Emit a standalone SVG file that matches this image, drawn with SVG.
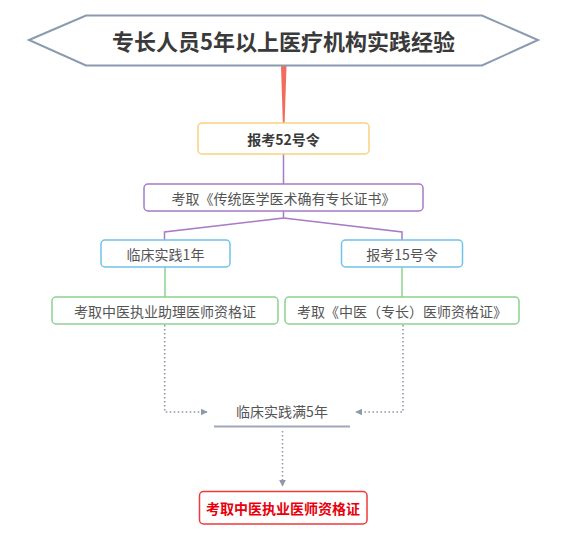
<svg xmlns="http://www.w3.org/2000/svg" width="563" height="542" viewBox="0 0 563 542">
<defs>
<style>
.t{font-family:"Noto Sans CJK SC","Noto Sans",sans-serif;text-anchor:middle;dominant-baseline:central}
.box{fill:#fff;stroke-width:1.5}
.dot{fill:none;stroke:#8e99ab;stroke-width:1.6;stroke-dasharray:1.6 2.4}
</style>
<marker id="ah" viewBox="0 0 10 10" refX="9" refY="5" markerWidth="7" markerHeight="7" markerUnits="userSpaceOnUse" orient="auto">
<path d="M0,0 L10,5 L0,10 Z" fill="#8e99ab"/>
</marker>
</defs>
<rect width="563" height="542" fill="#fff"/>
<g id="connectors">
<polygon points="281,66 286.5,66 284.6,123 282.8,123" fill="#f26b5b"/>
<line x1="283.5" y1="154" x2="283.5" y2="184" stroke="#a77bc6" stroke-width="1.5"/>
<polyline points="283.5,211 283.5,218 164.5,232 164.5,240" fill="none" stroke="#a77bc6" stroke-width="1.5"/>
<polyline points="283.5,218 402,232 402,240" fill="none" stroke="#a77bc6" stroke-width="1.5"/>
<line x1="165" y1="267" x2="165" y2="297" stroke="#8fd18f" stroke-width="1.5"/>
<line x1="402" y1="267" x2="402" y2="297" stroke="#8fd18f" stroke-width="1.5"/>
<polyline class="dot" points="164.7,325 164.7,412 207,412" marker-end="url(#ah)"/>
<polyline class="dot" points="403,325 403,412 356,412" marker-end="url(#ah)"/>
<line class="dot" x1="282.5" y1="431" x2="282.5" y2="486" marker-end="url(#ah)"/>
</g>
<g id="title">
<polygon points="29,40 86,15.5 482,15.5 538,40 482,65.5 86,65.5" fill="#fff" stroke="#8a9bb0" stroke-width="2"/>
<text class="t" x="283.5" y="40" font-size="22" font-weight="bold" fill="#3a3a3a">专长人员5年以上医疗机构实践经验</text>
</g>
<g id="n52">
<rect class="box" x="198" y="123" width="171" height="31" rx="4" stroke="#f9d27c"/>
<text class="t" x="283.5" y="138.5" font-size="14" font-weight="bold" fill="#3a3a3a">报考52号令</text>
</g>
<g id="ncert">
<rect class="box" x="144" y="184" width="279" height="27" rx="4" stroke="#a77bc6"/>
<text class="t" x="283.5" y="197.5" font-size="14" fill="#555">考取《传统医学医术确有专长证书》</text>
</g>
<g id="nprac1">
<rect class="box" x="101" y="240" width="129" height="27" rx="4" stroke="#6fc3e8"/>
<text class="t" x="165.5" y="253.5" font-size="14" fill="#555">临床实践1年</text>
</g>
<g id="n15">
<rect class="box" x="341.5" y="240" width="121" height="27" rx="4" stroke="#6fc3e8"/>
<text class="t" x="402" y="253.5" font-size="14" fill="#555">报考15号令</text>
</g>
<g id="nasst">
<rect class="box" x="52" y="297" width="226" height="27" rx="4" stroke="#8fd18f"/>
<text class="t" x="165" y="310.5" font-size="14" fill="#555">考取中医执业助理医师资格证</text>
</g>
<g id="nspec">
<rect class="box" x="285" y="297" width="234" height="27" rx="4" stroke="#8fd18f"/>
<text class="t" x="402" y="310.5" font-size="14" fill="#555">考取《中医（专长）医师资格证》</text>
</g>
<g id="nprac5">
<text class="t" x="282" y="411" font-size="14" fill="#555">临床实践满5年</text>
<line x1="214" y1="426.5" x2="350" y2="426.5" stroke="#a0a8b8" stroke-width="2"/>
</g>
<g id="nfinal">
<rect class="box" x="199.5" y="491.5" width="167.5" height="32.5" rx="4" stroke="#f03a3a"/>
<text class="t" x="283" y="508" font-size="14" font-weight="bold" fill="#e8000b">考取中医执业医师资格证</text>
</g>
</svg>
